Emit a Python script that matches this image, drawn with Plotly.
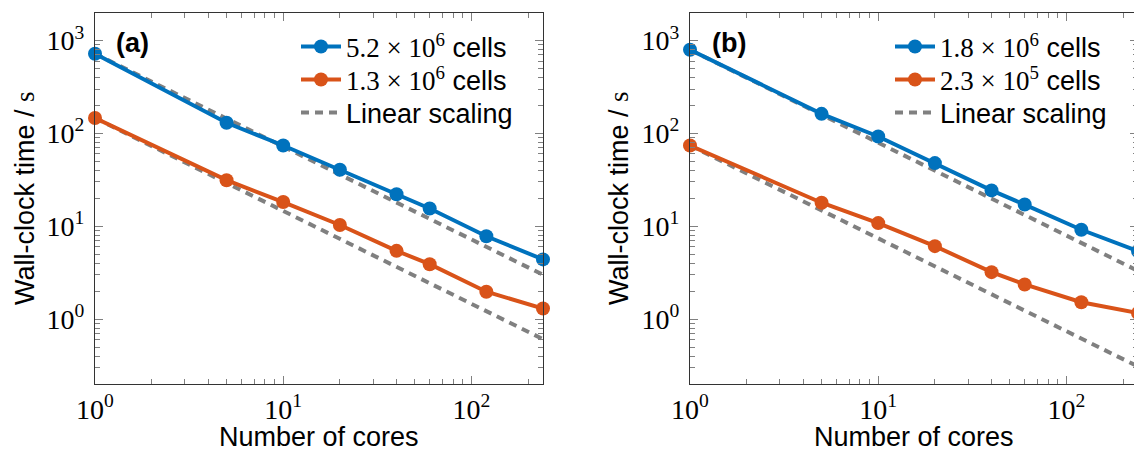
import numpy as np
import plotly.graph_objects as go

# ---- data -------------------------------------------------------------
cores = [1, 5, 10, 20, 40, 60, 120, 240]

# panel (a)
time_a_fine = [720, 130, 74, 40.6, 22.1, 15.5, 7.8, 4.39]     # 5.2e6 cells
time_a_coarse = [146, 31.3, 18.2, 10.3, 5.43, 3.9, 1.97, 1.30]  # 1.3e6 cells

# panel (b)
time_b_fine = [793, 162, 92.5, 47.8, 24.3, 17.1, 9.16, 5.4]   # 1.8e6 cells
time_b_coarse = [74, 17.9, 10.8, 6.1, 3.2, 2.36, 1.52, 1.16]    # 2.3e5 cells

label_a = ["5.2 × 10<sup>6</sup>", "1.3 × 10<sup>6</sup>"]
label_b = ["1.8 × 10<sup>6</sup>", "2.3 × 10<sup>5</sup>"]

x_major = [1, 10, 100]
x_major_text = ["10<sup>0</sup>", "10<sup>1</sup>", "10<sup>2</sup>"]
y_major = [1, 10, 100, 1000]
y_major_text = ["10<sup>0</sup>", "10<sup>1</sup>", "10<sup>2</sup>", "10<sup>3</sup>"]
x_minor = [2, 3, 4, 5, 6, 7, 8, 9, 20, 30, 40, 50, 60, 70, 80, 90, 200]
y_minor = [0.3, 0.4, 0.5, 0.6, 0.7, 0.8, 0.9, 2, 3, 4, 5, 6, 7, 8, 9,
           20, 30, 40, 50, 60, 70, 80, 90, 200, 300, 400, 500, 600, 700, 800, 900]

# ---- style ------------------------------------------------------------
BLUE = "#0072BD"
ORANGE = "#D95319"
GRAY = "#808080"
SANS = "Liberation Sans, Arial, sans-serif"
SERIF = "'Liberation Serif', 'DejaVu Serif', serif"

W, H = 1140, 453
# plot boxes in pixels (left, right, top, bottom)
box_a = (95, 543, 12.5, 384)
box_b = (690, 1138, 12.5, 384)
# legend rows (pixel centre heights) and left edges
legend_rows = [47, 80, 113]
legend_left = {"a": 296, "b": 890}


def math(s):
    return f"<span style=\"font-family:{SERIF}\">{s}</span>"


fig = go.Figure()


def add_panel(xaxis, yaxis, key, t_fine, t_coarse, labels):
    ideal_fine = [t_fine[0] * cores[0] / c for c in cores]
    ideal_coarse = [t_coarse[0] * cores[0] / c for c in cores]
    common = dict(xaxis=xaxis, yaxis=yaxis, cliponaxis=False)
    lg = [f"legend{3 * key + i + 1}".replace("legend1", "legend", 1)
          if 3 * key + i == 0 else f"legend{3 * key + i + 1}" for i in range(3)]
    fig.add_trace(go.Scatter(x=cores, y=ideal_fine, mode="lines",
                             line=dict(color=GRAY, width=4, dash="8px,6px"),
                             name="Linear scaling", legend=lg[2], **common))
    fig.add_trace(go.Scatter(x=cores, y=ideal_coarse, mode="lines",
                             line=dict(color=GRAY, width=4, dash="8px,6px"),
                             showlegend=False, **common))
    fig.add_trace(go.Scatter(x=cores, y=t_fine, mode="lines+markers",
                             line=dict(color=BLUE, width=4),
                             marker=dict(color=BLUE, size=14),
                             name=math(labels[0]) + " cells", legend=lg[0], **common))
    fig.add_trace(go.Scatter(x=cores, y=t_coarse, mode="lines+markers",
                             line=dict(color=ORANGE, width=4),
                             marker=dict(color=ORANGE, size=14),
                             name=math(labels[1]) + " cells", legend=lg[1], **common))
    return lg


legends_a = add_panel("x", "y", 0, time_a_fine, time_a_coarse, label_a)
legends_b = add_panel("x2", "y2", 1, time_b_fine, time_b_coarse, label_b)


def xdom(box):
    return [box[0] / W, box[1] / W]


def ydom(box):
    return [(H - box[3]) / H, (H - box[2]) / H]


axis_common = dict(
    type="log", showgrid=False, zeroline=False,
    showline=True, linecolor="#333333", linewidth=1.4, mirror="ticks",
    ticks="inside", ticklen=8, tickwidth=1.2, tickcolor=GRAY,
    tickfont=dict(family=SERIF, size=28, color="black"),
    automargin=False,
)

xaxis_common = dict(axis_common, range=[0, np.log10(240)], tickmode="array",
                    tickvals=x_major, ticktext=x_major_text,
                    minor=dict(tickmode="array", tickvals=x_minor, ticks="inside",
                               ticklen=5, tickwidth=1.2, tickcolor=GRAY))
yaxis_common = dict(axis_common, range=[np.log10(0.2), np.log10(2000)], tickmode="array",
                    tickvals=y_major, ticktext=y_major_text, ticklabelstandoff=4,
                    minor=dict(tickmode="array", tickvals=y_minor, ticks="inside",
                               ticklen=5, tickwidth=1.2, tickcolor=GRAY))

fig.update_layout(
    xaxis=dict(xaxis_common, domain=xdom(box_a), anchor="y"),
    yaxis=dict(yaxis_common, domain=ydom(box_a), anchor="x"),
    xaxis2=dict(xaxis_common, domain=xdom(box_b), anchor="y2"),
    yaxis2=dict(yaxis_common, domain=ydom(box_b), anchor="x2"),
)

legend_common = dict(
    bgcolor="rgba(0,0,0,0)", borderwidth=0, xanchor="left", yanchor="middle",
    font=dict(family=SANS, size=27, color="black"), itemwidth=40,
)
for names, key in ((legends_a, "a"), (legends_b, "b")):
    for name, row in zip(names, legend_rows):
        fig.update_layout({name: dict(legend_common, x=legend_left[key] / W, y=1 - row / H)})

annotations = [
    dict(text="<b>(a)</b>", x=132 / W, y=1 - 43 / H),
    dict(text="<b>(b)</b>", x=729 / W, y=1 - 43 / H),
    dict(text="Number of cores", x=319 / W, y=1 - 437 / H),
    dict(text="Number of cores", x=914 / W, y=1 - 437 / H),
    dict(text="Wall-clock time / " + math("s"), x=25 / W, y=1 - 198 / H, textangle=-90),
    dict(text="Wall-clock time / " + math("s"), x=619 / W, y=1 - 198 / H, textangle=-90),
]
for a in annotations:
    a.update(xref="paper", yref="paper", xanchor="center", yanchor="middle",
             showarrow=False, font=dict(family=SANS, size=27, color="black"))
fig.update_layout(annotations=annotations)

fig.update_layout(
    width=W, height=H,
    margin=dict(l=0, r=0, t=0, b=0),
    paper_bgcolor="white", plot_bgcolor="white",
)

fig.write_html("out.html", config={"displayModeBar": False},
               post_script="document.body.style.overflow='hidden';document.body.style.margin='0';")
